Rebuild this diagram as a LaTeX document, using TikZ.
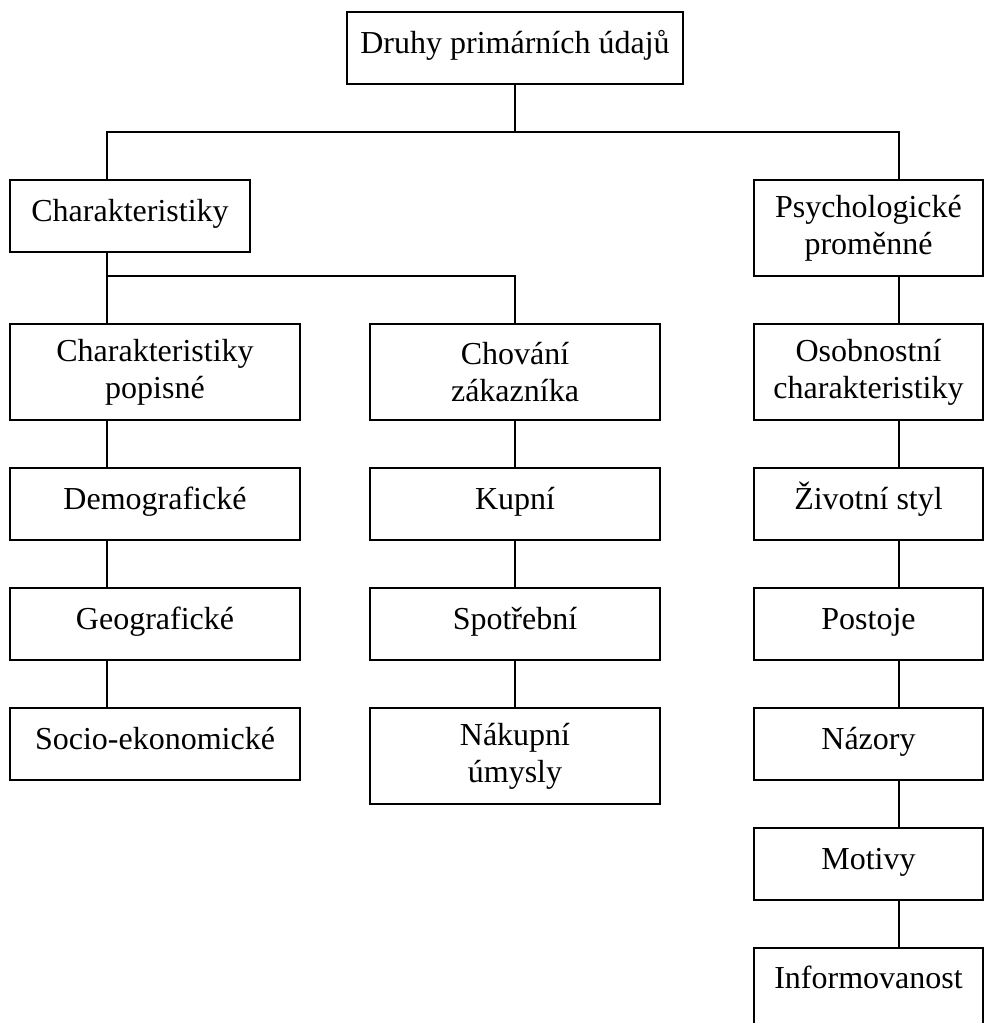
\documentclass[tikz,border=0pt]{standalone}
\usepackage{fontspec}
\setmainfont{Liberation Serif}
\begin{document}
\begin{tikzpicture}[x=1pt,y=-1pt,
  box/.style={draw=black, line width=1.5pt, rectangle, inner sep=0pt, align=center,
    font=\fontsize{32}{36.8}\selectfont},
  one/.style={box, text height=22pt, text depth=12pt},
  two/.style={box},
  conn/.style={draw=black, line width=1.5pt}]
\useasboundingbox (0,0) rectangle (985,1023);
\fill[white] (0,0) rectangle (985,1023);
\clip (0,0) rectangle (985,1023);
% nodes
\node[one, minimum width=336pt, minimum height=72pt] (top) at (515,48) {Druhy primárních údajů};
\node[one, minimum width=240pt, minimum height=72pt] (char) at (130,216) {Charakteristiky};
\node[two, minimum width=229pt, minimum height=96pt] (psych) at (868.5,228) {Psychologické\\proměnné};
\node[two, minimum width=290pt, minimum height=96pt] (popis) at (155,372) {Charakteristiky\\popisné};
\node[two, minimum width=290pt, minimum height=96pt] (chov) at (515,372) {Chování\\zákazníka};
\node[two, minimum width=229pt, minimum height=96pt] (osob) at (868.5,372) {Osobnostní\\charakteristiky};
\node[one, minimum width=290pt, minimum height=72pt] (demo) at (155,504) {Demografické};
\node[one, minimum width=290pt, minimum height=72pt] (kupni) at (515,504) {Kupní};
\node[one, minimum width=229pt, minimum height=72pt] (ziv) at (868.5,504) {Životní styl};
\node[one, minimum width=290pt, minimum height=72pt] (geo) at (155,624) {Geografické};
\node[one, minimum width=290pt, minimum height=72pt] (spot) at (515,624) {Spotřební};
\node[one, minimum width=229pt, minimum height=72pt] (post) at (868.5,624) {Postoje};
\node[one, minimum width=290pt, minimum height=72pt] (socio) at (155,744) {Socio-ekonomické};
\node[two, minimum width=290pt, minimum height=96pt] (nakup) at (515,756) {Nákupní\\úmysly};
\node[one, minimum width=229pt, minimum height=72pt] (nazory) at (868.5,744) {Názory};
\node[one, minimum width=229pt, minimum height=72pt] (motivy) at (868.5,864) {Motivy};
\node[box, text height=22pt, text depth=37pt, minimum width=229pt, minimum height=96pt] (info) at (868.5,996) {Informovanost};
% helper coordinates
\coordinate (lx) at (107,0);
\coordinate (rx) at (899,0);
\coordinate (j1) at (515,132);
\coordinate (j2) at (107,276);
% connectors
\draw[conn] (top.south) -- (j1);
\draw[conn] (j1) -| (char.north -| lx);
\draw[conn] (j1) -| (psych.north -| rx);
\draw[conn] (char.south -| lx) -- (popis.north -| lx);
\draw[conn] (j2) -| (chov.north);
\draw[conn] (popis.south -| lx) -- (demo.north -| lx);
\draw[conn] (demo.south -| lx) -- (geo.north -| lx);
\draw[conn] (geo.south -| lx) -- (socio.north -| lx);
\draw[conn] (chov.south) -- (kupni.north);
\draw[conn] (kupni.south) -- (spot.north);
\draw[conn] (spot.south) -- (nakup.north);
\draw[conn] (psych.south -| rx) -- (osob.north -| rx);
\draw[conn] (osob.south -| rx) -- (ziv.north -| rx);
\draw[conn] (ziv.south -| rx) -- (post.north -| rx);
\draw[conn] (post.south -| rx) -- (nazory.north -| rx);
\draw[conn] (nazory.south -| rx) -- (motivy.north -| rx);
\draw[conn] (motivy.south -| rx) -- (info.north -| rx);
\end{tikzpicture}
\end{document}
